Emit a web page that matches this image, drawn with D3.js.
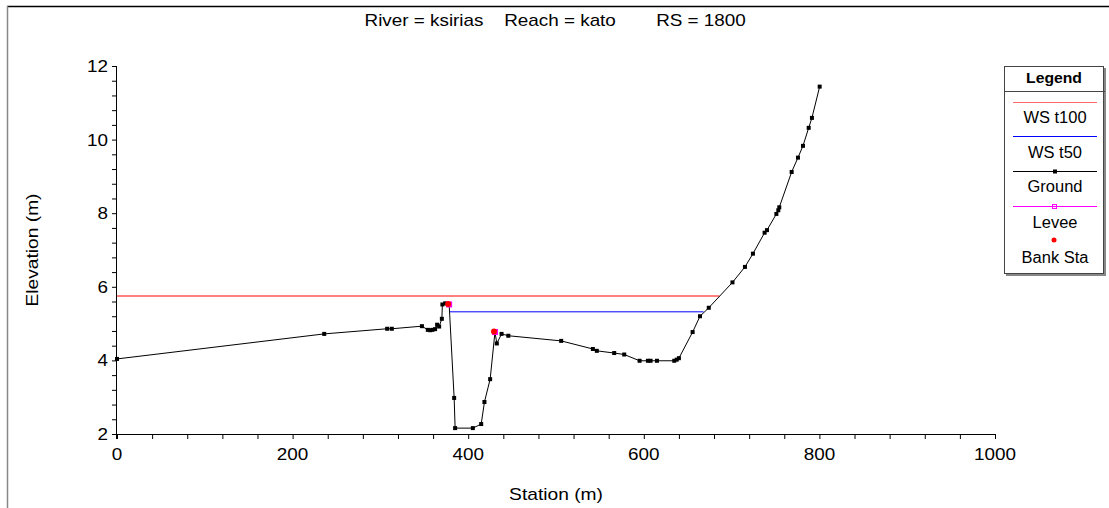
<!DOCTYPE html>
<html>
<head>
<meta charset="utf-8">
<script src="https://cdn.jsdelivr.net/npm/d3@7"></script>
<style>
  html, body { margin: 0; padding: 0; background: #fff; }
  svg { display: block; font-family: "Liberation Sans", Arial, sans-serif; }
</style>
</head>
<body>
<svg id="chart" width="1109" height="508"></svg>
<script>
// Cross-section ground profile: station (m) and elevation (m)
const groundStation = [0, 236, 307.7, 313, 347.3, 354, 356.7, 359.3, 362.3, 364.6, 366.9, 370, 370.6, 373.8, 378.3,
  384, 385.1, 405.3, 414.8, 418.5, 425, 430.5, 432.6, 438, 445.7, 505.9, 542, 546.5, 566.3, 577.7,
  595.2, 604.7, 607.7, 615, 634.7, 637.5, 640, 655.6, 664, 674, 701, 715.2, 724.3, 737.6, 740.3,
  751, 753.2, 754.3, 768.4, 775.6, 781.3, 787.8, 791.5, 800.3];
const groundElev = [4.04, 4.72, 4.86, 4.86, 4.93, 4.83, 4.82, 4.83, 4.85, 4.97, 4.92, 5.13, 5.52, 5.55, 5.52,
  2.98, 2.16, 2.16, 2.27, 2.87, 3.49, 4.77, 4.46, 4.72, 4.67, 4.53, 4.31, 4.26, 4.20, 4.16,
  3.99, 3.99, 3.99, 3.99, 3.99, 4.02, 4.06, 4.77, 5.20, 5.43, 6.12, 6.54, 6.90, 7.47, 7.54,
  7.98, 8.08, 8.16, 9.12, 9.51, 9.83, 10.32, 10.59, 11.44];

// Bank stations and levees (left, right)
const bankStation = [378.3, 430.5];
const bankElev = [5.52, 4.77];
const leveeStation = [378.3, 430.5];
const leveeElev = [5.52, 4.77];

// Water surfaces: elevation and wetted extent [start, end]
const wsT100 = { elev: 5.75, extent: [0, 686] };
const wsT50 = { elev: 5.32, extent: [378.3, 668] };

const xTicks = [0, 200, 400, 600, 800, 1000];
const yTicks = [2, 4, 6, 8, 10, 12];
const legendLabels = ["WS t100", "WS t50", "Ground", "Levee", "Bank Sta"];
const titleParts = ["River = ksirias", "Reach = kato", "RS = 1800"];

const svg = d3.select("#chart");
const SX = 1.18; // horizontal text stretch

const x = d3.scaleLinear().domain([0, 1000]).range([117, 995]);
const y = d3.scaleLinear().domain([2, 12]).range([434, 66]);

// outer frame
svg.append("line").attr("x1", 7).attr("x2", 1109).attr("y1", 6.5).attr("y2", 6.5)
  .attr("stroke", "#000").attr("stroke-width", 1.5);
svg.append("line").attr("x1", 7.5).attr("x2", 7.5).attr("y1", 6).attr("y2", 508)
  .attr("stroke", "#888").attr("stroke-width", 1.5);

function stretchedText(g, txt, tx, ty, opts) {
  const t = g.append("text")
    .attr("transform", `translate(${tx},${ty}) ${opts.rotate ? "rotate(" + opts.rotate + ")" : ""} scale(${opts.sx || SX},1)`)
    .attr("text-anchor", opts.anchor || "middle")
    .attr("font-size", opts.size || 16)
    .attr("font-weight", opts.weight || "normal")
    .attr("fill", "#000")
    .text(txt);
  return t;
}

// title
const titleX = [424, 560, 701];
titleParts.forEach((p, i) => stretchedText(svg, p, titleX[i], 26, { size: 16 }));

// axes
const minorX = d3.range(0, 1001, 40);
const minorY = d3.range(2, 12.01, 0.4).map(v => +v.toFixed(1));

const gx = svg.append("g").attr("transform", "translate(0,434)");
gx.call(d3.axisBottom(x).tickValues(minorX).tickSize(5).tickFormat(""));
gx.select(".domain").attr("d", `M${x(0) - 5},0.5H${x(1000)}`).attr("stroke", "#000");
gx.selectAll(".tick line").attr("stroke", "#000");

const gy = svg.append("g").attr("transform", "translate(117,0)");
gy.call(d3.axisLeft(y).tickValues(minorY).tickSize(5).tickFormat(""));
gy.select(".domain").attr("d", `M-0.5,${y(12)}V${y(2) + 5}`).attr("stroke", "#000");
gy.selectAll(".tick line").attr("stroke", "#000");

// tick labels
xTicks.forEach(v => stretchedText(svg, String(v), x(v), 460, { size: 16 }));
yTicks.forEach(v => stretchedText(svg, String(v), 108, y(v) + 6, { size: 16, anchor: "end" }));

// axis titles
stretchedText(svg, "Station (m)", 556, 500, { size: 16, sx: 1.2 });
stretchedText(svg, "Elevation (m)", 38, 250, { size: 16, rotate: -90, sx: 1.2 });

// water surfaces
svg.append("line")
  .attr("x1", x(wsT100.extent[0])).attr("x2", x(wsT100.extent[1]))
  .attr("y1", y(wsT100.elev)).attr("y2", y(wsT100.elev))
  .attr("stroke", "#ff0000").attr("stroke-width", 1);
svg.append("line")
  .attr("x1", x(wsT50.extent[0])).attr("x2", x(wsT50.extent[1]))
  .attr("y1", y(wsT50.elev)).attr("y2", y(wsT50.elev))
  .attr("stroke", "#0000ff").attr("stroke-width", 1);

// ground
const ground = groundStation.map((s, i) => [s, groundElev[i]]);
svg.append("path")
  .attr("d", d3.line().x(d => x(d[0])).y(d => y(d[1]))(ground))
  .attr("fill", "none").attr("stroke", "#000").attr("stroke-width", 1);
svg.append("g").selectAll("rect").data(ground).join("rect")
  .attr("x", d => x(d[0]) - 2).attr("y", d => y(d[1]) - 2)
  .attr("width", 4).attr("height", 4).attr("fill", "#000");

// levees
svg.append("g").selectAll("rect").data(leveeStation.map((s, i) => [s, leveeElev[i]])).join("rect")
  .attr("x", d => x(d[0]) - 2.5).attr("y", d => y(d[1]) - 2.5)
  .attr("width", 5).attr("height", 5).attr("fill", "#ff00ff").attr("stroke", "#ff00ff");

// bank stations
svg.append("g").selectAll("circle").data(bankStation.map((s, i) => [s, bankElev[i]])).join("circle")
  .attr("cx", d => x(d[0]) - 1).attr("cy", d => y(d[1]) - 0.5).attr("r", 3)
  .attr("fill", "#ff0000");

// legend
const lg = svg.append("g");
lg.append("rect").attr("x", 1006).attr("y", 68).attr("width", 100).attr("height", 208).attr("fill", "#888");
lg.append("rect").attr("x", 1004.5).attr("y", 66.5).attr("width", 99).attr("height", 207)
  .attr("fill", "#fff").attr("stroke", "#444").attr("stroke-width", 1);
lg.append("line").attr("x1", 1004.5).attr("x2", 1105).attr("y1", 91.5).attr("y2", 91.5)
  .attr("stroke", "#444");
stretchedText(lg, "Legend", 1054, 83, { size: 15, weight: "bold", sx: 1.05 });

const lineY = [102, 136, 171, 206];
const lineColors = ["#ff6666", "#0000ff", "#000", "#ff00ff"];
lineY.forEach((ly, i) => {
  lg.append("line").attr("x1", 1013).attr("x2", 1097).attr("y1", ly + 0.5).attr("y2", ly + 0.5)
    .attr("stroke", lineColors[i]).attr("stroke-width", 1);
});
lg.append("rect").attr("x", 1053).attr("y", 169.5).attr("width", 4).attr("height", 4).attr("fill", "#000");
lg.append("rect").attr("x", 1052.5).attr("y", 204.5).attr("width", 4).attr("height", 4)
  .attr("fill", "none").attr("stroke", "#ff00ff");
lg.append("circle").attr("cx", 1054).attr("cy", 240).attr("r", 2.5).attr("fill", "#ff0000");

const labelY = [123, 158, 192, 228, 263];
legendLabels.forEach((l, i) => stretchedText(lg, l, 1055, labelY[i], { size: 16, sx: 1.03 }));
</script>
</body>
</html>
